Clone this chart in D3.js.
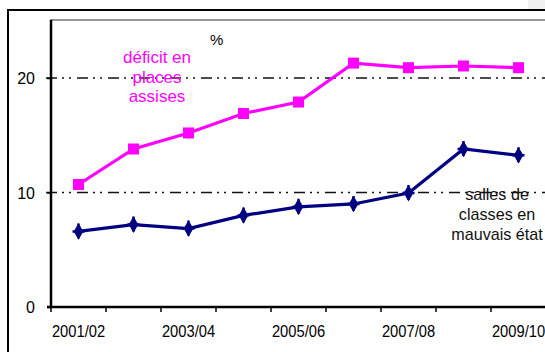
<!DOCTYPE html>
<html><head><meta charset="utf-8">
<script src="https://cdn.jsdelivr.net/npm/d3@7"></script>
<style>
html,body{margin:0;padding:0;background:#fff;}
svg{display:block;}
.narrow{font-family:"Liberation Sans Narrow","Arial Narrow","Liberation Sans",Arial,sans-serif;}
</style></head>
<body>
<svg id="c" width="545" height="352"></svg>
<script>
const categories = ["2001/02","2002/03","2003/04","2004/05","2005/06","2006/07","2007/08","2008/09","2009/10"];
const tickLabels = ["2001/02","2003/04","2005/06","2007/08","2009/10"];
const deficitPlaces = [10.7, 13.8, 15.2, 16.9, 17.9, 21.3, 20.9, 21.05, 20.9];
const sallesMauvais = [6.6, 7.2, 6.85, 8.0, 8.75, 9.0, 9.95, 13.8, 13.25];
const yTicks = [0, 10, 20];

(function(){
const svg = d3.select("#c");
const W = 545, H = 352;
const mLeft = 51, mTop = 20.75, mBottom = 307, mRight = 546;

svg.append("rect").attr("x",528).attr("y",0).attr("width",17).attr("height",9).attr("fill","#f0f0f0");
svg.append("path").attr("d",`M8,${H+5}V10H${W+5}`).attr("fill","none").attr("stroke","#000").attr("stroke-width",2);
svg.append("line").attr("x1",mLeft).attr("x2",W+5).attr("y1",20).attr("y2",20).attr("stroke","#999").attr("stroke-width",2);

const x = d3.scaleBand().domain(categories).range([mLeft, mRight]).padding(0);
const y = d3.scaleLinear().domain([0,25]).range([mBottom, mTop]);

svg.append("g").selectAll("line").data(yTicks.filter(d=>d>0)).join("line")
  .attr("x1",mLeft-5).attr("x2",W).attr("y1",d=>y(d)).attr("y2",d=>y(d))
  .attr("stroke","#111").attr("stroke-width",1.6).attr("stroke-dasharray","11,5,2,5,2,6");

const yAxis = svg.append("g").attr("transform",`translate(${mLeft},0)`)
  .call(d3.axisLeft(y).tickValues(yTicks).tickSize(4).tickPadding(12).tickFormat(d3.format("d")));
yAxis.select(".domain").attr("stroke","#000").attr("stroke-width",2.5).attr("d",`M0,${mBottom}V${mTop-1}`);
yAxis.selectAll(".tick line").attr("stroke","#000").attr("stroke-width",1.5);
yAxis.selectAll("text").attr("font-family","Liberation Sans, Arial, sans-serif").attr("font-size",16).attr("fill","#000").attr("dy","0.36em");

const xAxis = svg.append("g").attr("transform",`translate(0,${mBottom})`)
  .call(d3.axisBottom(x).tickSize(0).tickFormat(""));
xAxis.select(".domain").attr("stroke","#000").attr("stroke-width",2.5).attr("d",`M${mLeft-4},0H${W+5}`);
const bounds = categories.map(c=>x(c)).concat([mRight]);
xAxis.append("g").selectAll("line").data(bounds).join("line")
  .attr("x1",d=>d).attr("x2",d=>d).attr("y1",0).attr("y2",5).attr("stroke","#000").attr("stroke-width",1.5);
svg.append("g").selectAll("text").data(tickLabels).join("text")
  .attr("class","narrow")
  .attr("transform",d=>`translate(${x(d)+x.bandwidth()/2},337) scale(0.92,1)`)
  .attr("text-anchor","middle").attr("font-size",16).attr("fill","#000").text(d=>d);

const cx = d => x(d) + x.bandwidth()/2;
const line = d3.line().x((d,i)=>cx(categories[i])).y(d=>y(d));

svg.append("path").datum(deficitPlaces).attr("d",line).attr("fill","none").attr("stroke","#ff00ff").attr("stroke-width",3.2);
svg.append("g").selectAll("rect").data(deficitPlaces).join("rect")
  .attr("x",(d,i)=>cx(categories[i])-5.5).attr("y",d=>y(d)-5.5).attr("width",11).attr("height",11).attr("fill","#ff00ff");

svg.append("path").datum(sallesMauvais).attr("d",line).attr("fill","none").attr("stroke","#000080").attr("stroke-width",3.2);
const mk = svg.append("g").selectAll("g").data(sallesMauvais).join("g")
  .attr("transform",(d,i)=>`translate(${cx(categories[i])},${y(d)})`);
mk.append("path").attr("d",d3.symbol(d3.symbolDiamond,80)).attr("fill","#000080");
mk.append("path").attr("d","M0,-8V7M-6,0H6").attr("stroke","#000080").attr("stroke-width",2.4);

svg.append("text").attr("x",210).attr("y",45).attr("font-family","Liberation Sans, Arial, sans-serif").attr("font-size",15).attr("fill","#000").text("%");
const lab1 = svg.append("text").attr("class","narrow").attr("text-anchor","middle").attr("font-size",17).attr("fill","#ff00ff")
  .attr("transform","translate(157,0)");
["déficit en","places","assises"].forEach((t,i)=>lab1.append("tspan").attr("x",0).attr("y",63+i*19.5).text(t));
const lab2 = svg.append("text").attr("class","narrow").attr("text-anchor","middle").attr("font-size",17).attr("fill","#111")
  .attr("transform","translate(497,0) scale(0.95,1)");
["salles de","classes en","mauvais état"].forEach((t,i)=>lab2.append("tspan").attr("x",0).attr("y",200+i*20).text(t));
})();
</script>
</body></html>
